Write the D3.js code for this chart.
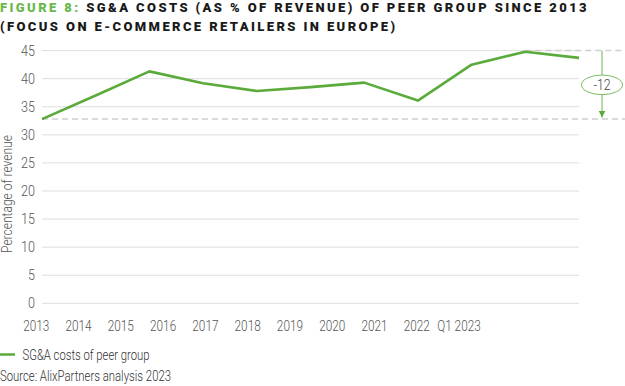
<!DOCTYPE html>
<html><head><meta charset="utf-8">
<script src="https://cdn.jsdelivr.net/npm/d3@7"></script>
<style>body{margin:0;background:#fff;}svg{display:block;}</style>
</head><body>
<script>
const categories = ["2013","2014","2015","2016","2017","2018","2019","2020","2021","2022","Q1 2023"];
const sgaValues = [32.8, 37.0, 41.3, 39.2, 37.8, 38.5, 39.3, 36.1, 42.5, 44.8, 43.7];
const yTicks = [0,5,10,15,20,25,30,35,40,45];
const seriesName = "SG&A costs of peer group";
const deltaLabel = "-12";

const W = 625, H = 386;
const green = "#5aab3b";
const svg = d3.select("body").append("svg").attr("width", W).attr("height", H);
const FONT = "Roboto, 'Open Sans', sans-serif";

function condense(sel, f) {
  sel.each(function(){ const l = this.getComputedTextLength(); d3.select(this).attr("textLength", l*f).attr("lengthAdjust","spacingAndGlyphs"); });
}

// title
const t = svg.append("text").attr("font-family", FONT).attr("font-weight", 900).attr("font-size", 13).attr("letter-spacing", 2.4);
t.append("tspan").attr("x", 0).attr("y", 12).attr("fill", "#6ab84e").text("FIGURE 8: ");
t.append("tspan").attr("fill", "#1a1a1a").text("SG&A COSTS (AS % OF REVENUE) OF PEER GROUP SINCE 2013");
svg.append("text").attr("font-family", FONT).attr("font-weight", 900).attr("font-size", 13).attr("letter-spacing", 2.4)
  .attr("x", 0).attr("y", 30.5).attr("fill", "#1a1a1a").text("(FOCUS ON E-COMMERCE RETAILERS IN EUROPE)");

const y = d3.scaleLinear().domain([0,45]).range([303.3, 50.6]);
const x = d3.scalePoint().domain(categories).range([42, 579]);
const xLab = d3.scalePoint().domain(categories).range([36.3, 459]);

// grid
svg.append("g").selectAll("line").data(yTicks).join("line")
  .attr("x1", 42).attr("x2", 579).attr("y1", d=>y(d)).attr("y2", d=>y(d))
  .attr("stroke", "#dedede").attr("stroke-width", 1);

// y axis labels
const yl = svg.append("g").selectAll("text").data(yTicks).join("text")
  .attr("x", 35).attr("y", d=>y(d)+5).attr("text-anchor","end")
  .attr("font-family", FONT).attr("font-weight", 300).attr("font-size", 14).attr("fill", "#555")
  .text(d=>d);
condense(yl, 0.9);

// x axis labels
const xl = svg.append("g").selectAll("text").data(categories).join("text")
  .attr("x", d=>xLab(d)).attr("y", 331).attr("text-anchor","middle")
  .attr("font-family", FONT).attr("font-weight", 300).attr("font-size", 14).attr("fill", "#555")
  .text(d=>d);
condense(xl, 0.84);

// y title
const yt = svg.append("text").attr("transform", "translate(12,194) rotate(-90)").attr("text-anchor","middle")
  .attr("font-family", FONT).attr("font-weight", 300).attr("font-size", 14).attr("fill", "#555")
  .text("Percentage of revenue");
condense(yt, 0.86);

// dashed reference lines
const first = sgaValues[0];
svg.append("line").attr("x1", 42).attr("x2", W).attr("y1", y(first)).attr("y2", y(first))
  .attr("stroke", "#cfcfcf").attr("stroke-width", 1.5).attr("stroke-dasharray", "6,4");
svg.append("line").attr("x1", x(categories[9])).attr("x2", W).attr("y1", y(45)).attr("y2", y(45))
  .attr("stroke", "#cfcfcf").attr("stroke-width", 1.5).attr("stroke-dasharray", "6,4");

// line
svg.append("path").datum(sgaValues)
  .attr("d", d3.line().x((d,i)=>x(categories[i])).y(d=>y(d)))
  .attr("fill","none").attr("stroke", green).attr("stroke-width", 2.6).attr("stroke-linejoin","round");

// arrow annotation
const ax = 602;
svg.append("defs").append("marker").attr("id","ah").attr("viewBox","0 0 10 10").attr("refX",10).attr("refY",5)
  .attr("markerWidth",7).attr("markerHeight",7).attr("markerUnits","userSpaceOnUse").attr("orient","auto")
  .append("path").attr("d","M0,0L10,5L0,10z").attr("fill", green);
svg.append("line").attr("x1", ax).attr("x2", ax).attr("y1", y(45)).attr("y2", y(first)-1.5)
  .attr("stroke", green).attr("stroke-width", 0.9).attr("marker-end","url(#ah)");
const ey = (y(45)+y(first))/2;
svg.append("ellipse").attr("cx", ax).attr("cy", ey).attr("rx", 20.5).attr("ry", 9.8)
  .attr("fill","#fff").attr("stroke", green).attr("stroke-width", 0.8);
const dl = svg.append("text").attr("x", ax).attr("y", ey+5).attr("text-anchor","middle")
  .attr("font-family", FONT).attr("font-weight", 300).attr("font-size", 14).attr("fill", "#444").text(deltaLabel);
condense(dl, 0.88);

// legend
svg.append("line").attr("x1",0).attr("x2",15).attr("y1",354.5).attr("y2",354.5).attr("stroke", green).attr("stroke-width",2.5);
const lg = svg.append("text").attr("x", 22.5).attr("y", 359.5)
  .attr("font-family", FONT).attr("font-weight", 300).attr("font-size", 14).attr("fill", "#333").text(seriesName);
lg.attr("textLength", 127).attr("lengthAdjust","spacingAndGlyphs");
svg.append("text").attr("x", 0).attr("y", 380.5)
  .attr("font-family", FONT).attr("font-weight", 300).attr("font-size", 14).attr("fill", "#333")
  .attr("textLength", 171).attr("lengthAdjust","spacingAndGlyphs")
  .text("Source: AlixPartners analysis 2023");
</script>
</body></html>
